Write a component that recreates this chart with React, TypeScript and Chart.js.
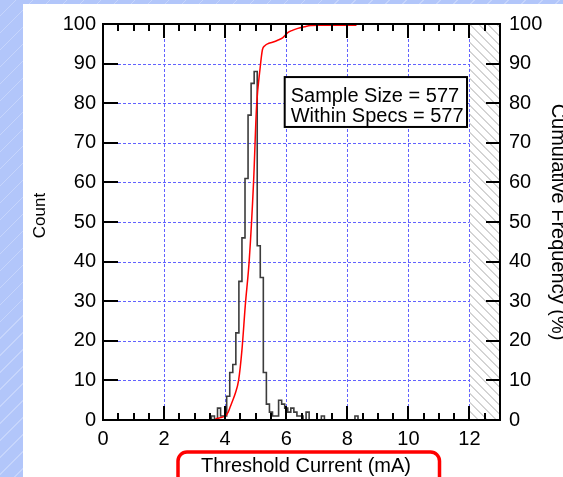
import React, { useEffect, useRef } from "react";
import { Chart, registerables } from "chart.js";

Chart.register(...registerables);

// ---------- data ----------
const binCenters = [3.6, 3.8, 3.9, 4.0, 4.1, 4.2, 4.3, 4.4, 4.5, 4.6, 4.7, 4.8, 4.9, 5.0, 5.1, 5.2, 5.3, 5.4, 5.5, 5.6, 5.7, 5.8, 5.9, 6.0, 6.1, 6.2, 6.3, 6.4, 6.5, 6.7, 7.2, 8.3];
const binCounts = [1, 3, 1, 1, 6, 12, 14, 22, 35, 46, 61, 77, 85, 88, 44, 36, 12, 4, 2, 1, 1, 5, 4, 3, 2, 3, 2, 1, 1, 2, 1, 1];
const BIN_WIDTH = 0.1;

const cumX = [3.68, 3.85, 4.0, 4.1, 4.17, 4.25, 4.33, 4.44, 4.55, 4.66, 4.79, 4.93, 5.03, 5.14, 5.22, 5.3, 5.39, 5.55, 5.72, 5.88, 6.05, 6.2, 6.38, 6.6, 6.8, 7.04, 7.5, 8.3];
const cumY = [0.3, 0.6, 1.0, 2.0, 3.4, 5.0, 6.7, 10, 17.7, 29, 40.5, 60, 79.4, 88.5, 93.5, 94.5, 95, 95.4, 95.9, 96.5, 97.8, 98.4, 98.9, 99.3, 99.6, 99.7, 99.7, 99.7];

const xTickValues = [0, 2, 4, 6, 8, 10, 12];
const yTickValues = [0, 10, 20, 30, 40, 50, 60, 70, 80, 90, 100];
const X_MIN = 0;
const X_MAX = 13;
const X_MINOR_STEP = 0.5;
const SPEC_LIMIT = 12;

const xTitle = "Threshold Current (mA)";
const yTitle = "Count";
const y2Title = "Cumulative Frequency (%)";
const sampleSize = 577;
const withinSpecs = 577;
const infoLines = [`Sample Size = ${sampleSize}`, `Within Specs = ${withinSpecs}`];
// info box corners in data units (x, count)
const infoBoxX = [5.95, 11.92];
const infoBoxY = [86.6, 74.0];

const FONT = "'Liberation Sans', Arial, Helvetica, sans-serif";

// ---------- build histogram step outline ----------
function histogramPoints() {
  const pts: { x: number; y: number | null }[] = [];
  for (let i = 0; i < binCenters.length; i++) {
    const l = +(binCenters[i] - BIN_WIDTH / 2).toFixed(3);
    const r = +(binCenters[i] + BIN_WIDTH / 2).toFixed(3);
    const prevR = i > 0 ? +(binCenters[i - 1] + BIN_WIDTH / 2).toFixed(3) : null;
    if (prevR === null || Math.abs(prevR - l) > 1e-6) {
      if (prevR !== null) {
        pts.push({ x: prevR, y: 0 });
        pts.push({ x: (prevR + l) / 2, y: null });
      }
      pts.push({ x: l, y: 0 });
    }
    pts.push({ x: l, y: binCounts[i] });
    pts.push({ x: r, y: binCounts[i] });
  }
  const last = binCenters[binCenters.length - 1] + BIN_WIDTH / 2;
  pts.push({ x: last, y: 0 });
  return pts;
}

function drawText(ctx: CanvasRenderingContext2D, text: string, cx: number, cy: number, size: number, angle: number) {
  ctx.save();
  ctx.font = `${size}px ${FONT}`;
  ctx.textAlign = "center";
  ctx.textBaseline = "middle";
  ctx.translate(cx, cy);
  ctx.rotate(angle);
  ctx.fillText(text, 0, 0);
  ctx.restore();
}

const decorPlugin = {
  id: "decor",
  beforeDraw(chart: any) {
    const ctx = chart.ctx;
    ctx.save();
    ctx.fillStyle = "#ffffff";
    ctx.fillRect(23, 4, chart.width - 23, chart.height - 4);
    ctx.restore();
  },
  beforeDatasetsDraw(chart: any) {
    const { ctx, chartArea: a } = chart;
    const x = chart.scales.x;
    const y = chart.scales.y;
    // hatched out-of-spec region
    const hx0 = x.getPixelForValue(SPEC_LIMIT);
    const hx1 = x.getPixelForValue(X_MAX);
    const H = a.bottom - a.top;
    ctx.save();
    ctx.beginPath();
    ctx.rect(hx0, a.top, hx1 - hx0, H);
    ctx.clip();
    ctx.strokeStyle = "#a9a9a9";
    ctx.lineWidth = 1;
    ctx.beginPath();
    for (let s = hx0 - H; s < hx1 + 2; s += 9) {
      ctx.moveTo(s, a.top);
      ctx.lineTo(s + H, a.bottom);
    }
    ctx.stroke();
    ctx.restore();
    // dotted grid
    ctx.save();
    ctx.strokeStyle = "#6262ff";
    ctx.lineWidth = 1;
    ctx.setLineDash([3, 2]);
    ctx.beginPath();
    for (const v of xTickValues) {
      if (v <= X_MIN || v >= X_MAX) continue;
      const px = Math.round(x.getPixelForValue(v)) + 0.5;
      ctx.moveTo(px, a.top);
      ctx.lineTo(px, a.bottom);
    }
    for (const v of yTickValues) {
      if (v <= 0 || v >= 100) continue;
      const py = Math.round(y.getPixelForValue(v)) + 0.5;
      ctx.moveTo(x.getPixelForValue(X_MIN), py);
      ctx.lineTo(x.getPixelForValue(SPEC_LIMIT), py);
    }
    ctx.stroke();
    ctx.restore();
  },
  afterDatasetsDraw(chart: any) {
    const { ctx, chartArea: a } = chart;
    const x = chart.scales.x;
    const y = chart.scales.y;
    ctx.save();
    ctx.strokeStyle = "#000";
    ctx.lineWidth = 2;
    ctx.strokeRect(a.left, a.top, a.right - a.left, a.bottom - a.top);
    ctx.beginPath();
    for (let v = X_MIN; v <= X_MAX + 1e-9; v += X_MINOR_STEP) {
      const px = Math.round(x.getPixelForValue(v));
      const major = xTickValues.some((t) => Math.abs(t - v) < 1e-6);
      const len = major ? 14 : 7;
      ctx.moveTo(px, a.bottom);
      ctx.lineTo(px, a.bottom - len);
      ctx.moveTo(px, a.top);
      ctx.lineTo(px, a.top + len);
    }
    for (const v of yTickValues) {
      const py = Math.round(y.getPixelForValue(v));
      ctx.moveTo(a.left, py);
      ctx.lineTo(a.left + 15, py);
      ctx.moveTo(a.right, py);
      ctx.lineTo(a.right - 14, py);
    }
    ctx.stroke();

    // info box
    const bx0 = x.getPixelForValue(infoBoxX[0]);
    const bx1 = x.getPixelForValue(infoBoxX[1]);
    const by0 = y.getPixelForValue(infoBoxY[0]);
    const by1 = y.getPixelForValue(infoBoxY[1]);
    ctx.fillStyle = "#fff";
    ctx.fillRect(bx0, by0, bx1 - bx0, by1 - by0);
    ctx.lineWidth = 2;
    ctx.strokeRect(bx0, by0, bx1 - bx0, by1 - by0);
    ctx.fillStyle = "#000";
    ctx.font = `20px ${FONT}`;
    ctx.textAlign = "left";
    ctx.textBaseline = "alphabetic";
    ctx.fillText(infoLines[0], bx0 + 6, by0 + 24.5);
    ctx.fillText(infoLines[1], bx0 + 6, by0 + 45);
    ctx.restore();
  },
  afterDraw(chart: any) {
    const { ctx, chartArea: a } = chart;
    ctx.save();
    ctx.fillStyle = "#000";
    // y title (reads bottom-to-top)
    drawText(ctx, yTitle, 40, (a.top + a.bottom) / 2 - 6.5, 17, -Math.PI / 2);
    // y2 title (reads top-to-bottom)
    drawText(ctx, y2Title, 558, (a.top + a.bottom) / 2, 20, Math.PI / 2);
    // x title with red rounded frame
    drawText(ctx, xTitle, 306, 466, 20, 0);
    ctx.strokeStyle = "#ff0000";
    ctx.lineWidth = 3.5;
    ctx.beginPath();
    ctx.roundRect(178, 452, 261.5, 50, 9);
    ctx.stroke();
    ctx.restore();
  },
};

export default function App() {
  const ref = useRef<HTMLCanvasElement | null>(null);
  useEffect(() => {
    if (!ref.current) return;
    const tickFont = { family: FONT, size: 20 };
    const chart = new Chart(ref.current, {
      type: "line",
      data: {
        datasets: [
          {
            label: "Cumulative",
            data: cumX.map((v, i) => ({ x: v, y: cumY[i] })),
            yAxisID: "y2",
            borderColor: "#ff0000",
            borderWidth: 1.5,
            pointRadius: 0,
            cubicInterpolationMode: "monotone",
            fill: false,
            order: 0,
          },
          {
            label: "Count",
            data: histogramPoints(),
            yAxisID: "y",
            borderColor: "#3c3c3c",
            borderWidth: 1.6,
            pointRadius: 0,
            tension: 0,
            spanGaps: false,
            fill: false,
            order: 1,
          },
        ],
      },
      options: {
        responsive: false,
        animation: false,
        events: [],
        layout: { padding: { top: 24, left: 0, right: 0, bottom: 0 } },
        plugins: { legend: { display: false }, tooltip: { enabled: false } },
        scales: {
          x: {
            type: "linear",
            min: X_MIN,
            max: X_MAX,
            afterBuildTicks: (s: any) => {
              s.ticks = xTickValues.map((v) => ({ value: v }));
            },
            afterFit: (s: any) => {
              s.height = 57;
            },
            grid: { display: false, drawTicks: false },
            border: { display: false },
            ticks: { font: tickFont, color: "#000", padding: 7, maxRotation: 0, autoSkip: false },
          },
          y: {
            position: "left",
            min: 0,
            max: 100,
            afterBuildTicks: (s: any) => {
              s.ticks = yTickValues.map((v) => ({ value: v }));
            },
            afterFit: (s: any) => {
              s.width = 103;
            },
            grid: { display: false, drawTicks: false },
            border: { display: false },
            ticks: { font: tickFont, color: "#000", padding: 7, autoSkip: false },
          },
          y2: {
            position: "right",
            min: 0,
            max: 100,
            afterBuildTicks: (s: any) => {
              s.ticks = yTickValues.map((v) => ({ value: v }));
            },
            afterFit: (s: any) => {
              s.width = 63;
            },
            grid: { display: false, drawTicks: false },
            border: { display: false },
            ticks: { font: tickFont, color: "#000", padding: 9, autoSkip: false },
          },
        },
      },
      plugins: [decorPlugin],
    } as any);
    return () => chart.destroy();
  }, []);

  return (
    <div
      style={{
        position: "fixed",
        left: 0,
        top: 0,
        width: 563,
        height: 477,
        overflow: "hidden",
        background:
          "repeating-linear-gradient(135deg, #b2c6fa 0px, #b2c6fa 11px, #c6d5fc 11px, #c6d5fc 12px)",
      }}
    >
      <canvas ref={ref} width={563} height={477} style={{ display: "block" }} />
    </div>
  );
}
